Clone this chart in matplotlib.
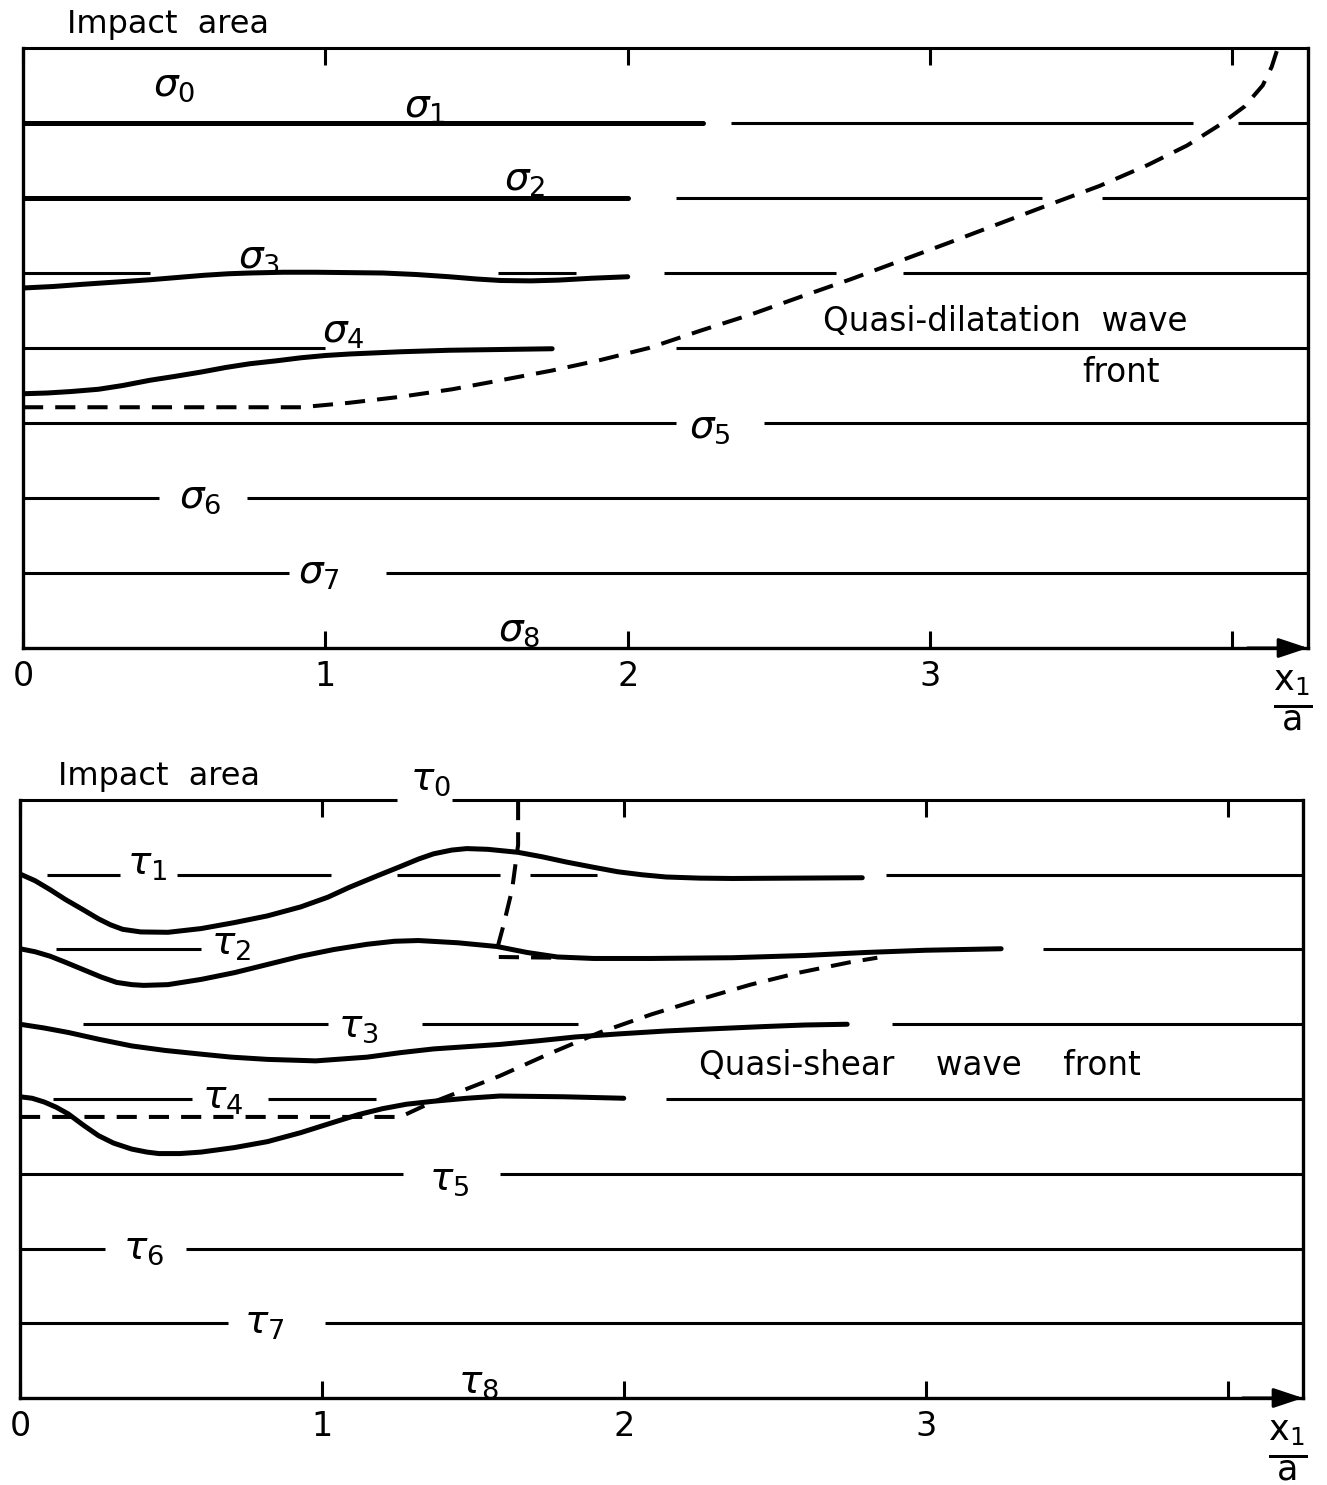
import matplotlib
matplotlib.use("Agg")
import matplotlib.pyplot as plt

plt.rcParams["font.family"] = ["DejaVu Sans"]
plt.rcParams["mathtext.fontset"] = "dejavusans"

# ---- normal stress contours (sigma_0 ... sigma_8) ----
# reference level lines, drawn as (start, end) pieces along x1/a
sigma_ref_segments = {
    0: [(0.0, 4.25)],
    1: [(0.0, 2.25), (2.34, 3.87), (4.02, 4.25)],
    2: [(0.0, 2.0), (2.16, 3.37), (3.57, 4.25)],
    3: [(0.0, 0.42), (1.57, 1.83), (2.12, 2.69), (2.91, 4.25)],
    4: [(0.0, 1.0), (2.16, 4.25)],
    5: [(0.0, 2.16), (2.45, 4.25)],
    6: [(0.0, 0.45), (0.74, 4.25)],
    7: [(0.0, 0.88), (1.20, 4.25)],
}

sigma1_x = [0.0, 2.25]
sigma1_y = [1.0, 1.0]
sigma2_x = [0.0, 2.0]
sigma2_y = [2.0, 2.0]
sigma3_x = [0.0, 0.10, 0.20, 0.31, 0.42, 0.51, 0.60, 0.68, 0.75, 0.86, 0.97,
            1.08, 1.19, 1.30, 1.41, 1.50, 1.58, 1.68, 1.77, 1.88, 2.0]
sigma3_y = [3.20, 3.18, 3.15, 3.12, 3.09, 3.06, 3.03, 3.01, 3.00, 2.99, 2.99,
            2.995, 3.00, 3.02, 3.05, 3.08, 3.10, 3.105, 3.095, 3.07, 3.05]
sigma4_x = [0.0, 0.08, 0.16, 0.25, 0.33, 0.42, 0.50, 0.59, 0.67, 0.75, 0.84,
            0.92, 1.00, 1.08, 1.25, 1.41, 1.58, 1.75]
sigma4_y = [4.61, 4.60, 4.58, 4.55, 4.50, 4.43, 4.38, 4.32, 4.26, 4.21, 4.17,
            4.13, 4.10, 4.08, 4.05, 4.03, 4.02, 4.01]

# quasi-dilatation wave front
dilatation_front_x = [0.0, 0.92, 1.08, 1.25, 1.42, 1.58, 1.75, 1.91, 2.07,
                      2.24, 2.41, 2.57, 2.74, 2.90, 3.06, 3.23, 3.40, 3.56,
                      3.72, 3.85, 3.96, 4.04, 4.10, 4.13, 4.15]
dilatation_front_y = [4.79, 4.79, 4.73, 4.65, 4.55, 4.43, 4.30, 4.16, 4.00,
                      3.77, 3.55, 3.32, 3.08, 2.84, 2.60, 2.34, 2.08, 1.84,
                      1.56, 1.30, 1.02, 0.78, 0.50, 0.25, 0.0]

# ---- shear stress contours (tau_0 ... tau_8) ----
tau_ref_segments = {
    0: [(0.0, 1.25), (1.43, 4.25)],
    1: [(0.09, 0.33), (0.52, 1.03), (1.25, 1.59), (1.69, 1.91), (2.87, 4.25)],
    2: [(0.12, 0.60), (3.39, 4.25)],
    3: [(0.21, 1.02), (1.33, 1.85), (2.89, 4.25)],
    4: [(0.11, 0.57), (0.82, 1.18), (2.14, 4.25)],
    5: [(0.0, 1.27), (1.59, 4.25)],
    6: [(0.0, 0.28), (0.55, 4.25)],
    7: [(0.0, 0.69), (1.01, 4.25)],
}

tau1_x = [0.0, 0.05, 0.10, 0.15, 0.21, 0.26, 0.30, 0.34, 0.40, 0.49, 0.60,
          0.71, 0.82, 0.93, 1.02, 1.09, 1.18, 1.26, 1.32, 1.37, 1.43, 1.48,
          1.55, 1.65, 1.73, 1.81, 1.90, 1.98, 2.06, 2.14, 2.25, 2.36, 2.79]
tau1_y = [0.99, 1.08, 1.20, 1.33, 1.47, 1.59, 1.67, 1.73, 1.765, 1.77, 1.72,
          1.64, 1.55, 1.43, 1.30, 1.17, 1.02, 0.89, 0.79, 0.72, 0.67, 0.65,
          0.66, 0.70, 0.76, 0.83, 0.90, 0.96, 1.00, 1.03, 1.045, 1.05, 1.04]
tau2_x = [0.0, 0.05, 0.10, 0.15, 0.21, 0.27, 0.32, 0.37, 0.41, 0.49, 0.60,
          0.71, 0.82, 0.93, 1.04, 1.15, 1.24, 1.32, 1.45, 1.58, 1.68, 1.78,
          1.90, 2.09, 2.36, 2.60, 2.80, 3.00, 3.25]
tau2_y = [1.99, 2.03, 2.09, 2.17, 2.27, 2.37, 2.44, 2.47, 2.48, 2.47, 2.40,
          2.31, 2.20, 2.09, 2.00, 1.93, 1.89, 1.88, 1.91, 1.96, 2.04, 2.10,
          2.12, 2.12, 2.11, 2.08, 2.04, 2.01, 1.99]
tau3_x = [0.0, 0.08, 0.16, 0.26, 0.37, 0.48, 0.60, 0.70, 0.82, 0.98, 1.15,
          1.26, 1.37, 1.48, 1.59, 1.72, 1.84, 1.98, 2.14, 2.30, 2.47, 2.60,
          2.74]
tau3_y = [3.00, 3.05, 3.11, 3.20, 3.29, 3.35, 3.40, 3.44, 3.47, 3.49, 3.44,
          3.38, 3.33, 3.30, 3.27, 3.22, 3.17, 3.13, 3.09, 3.06, 3.03, 3.01,
          3.00]
tau4_x = [0.0, 0.04, 0.08, 0.12, 0.16, 0.21, 0.26, 0.31, 0.37, 0.42, 0.46,
          0.53, 0.60, 0.71, 0.82, 0.93, 1.04, 1.12, 1.20, 1.28, 1.37, 1.48,
          1.59, 1.80, 2.0]
tau4_y = [3.97, 3.99, 4.04, 4.11, 4.20, 4.35, 4.49, 4.59, 4.67, 4.71, 4.73,
          4.73, 4.71, 4.65, 4.57, 4.45, 4.31, 4.21, 4.13, 4.07, 4.03, 3.99,
          3.96, 3.97, 3.99]

# quasi-shear wave fronts
shear_front_x = [0.0, 1.26, 1.35, 1.42, 1.59, 1.75, 1.92, 2.09, 2.25, 2.42,
                 2.58, 2.75, 2.84]
shear_front_y = [4.24, 4.24, 4.07, 3.96, 3.69, 3.40, 3.11, 2.87, 2.67, 2.47,
                 2.31, 2.17, 2.11]
head_front_x = [1.65, 1.65, 1.63, 1.60, 1.58, 1.58, 1.78]
head_front_y = [0.0, 0.60, 1.20, 1.70, 2.00, 2.10, 2.11]

x_ticks = [0, 1, 2, 3, 4]
x_tick_labels = ["0", "1", "2", "3", ""]

THIN = 2.2
THICK = 3.6
DASH = 2.9
XMAX = 4.25


def setup_axes(ax):
    ax.set_xlim(0, XMAX)
    ax.set_ylim(8, 0)
    ax.set_yticks([])
    ax.set_xticks(x_ticks)
    ax.set_xticklabels(x_tick_labels)
    ax.tick_params(axis="x", direction="in", length=12, width=2.2,
                   top=True, labelsize=24, pad=9)
    ax.spines["top"].set_visible(False)
    for side in ("left", "right", "bottom"):
        ax.spines[side].set_linewidth(2.4)

    # arrow head at the end of the x1/a axis
    ax.annotate("", xy=(XMAX, 8), xytext=(XMAX - 0.2, 8),
                arrowprops=dict(arrowstyle="-|>,head_length=0.9,head_width=0.3",
                                color="black", lw=2.2, mutation_scale=20,
                                shrinkA=0, shrinkB=0),
                annotation_clip=False)

    ax.text(XMAX - 0.05, 8.72, r"$\frac{\mathrm{x}_{\mathrm{1}}}{\mathrm{a}}$",
            fontsize=36, ha="center", va="center", clip_on=False)


def draw_reference_lines(ax, segments):
    for level, pieces in segments.items():
        for start, end in pieces:
            ax.plot([start, end], [level, level], color="black", lw=THIN,
                    solid_capstyle="butt", clip_on=False)


def draw_curve(ax, xs, ys):
    ax.plot(xs, ys, color="black", lw=THICK, solid_capstyle="round",
            solid_joinstyle="round")


def draw_front(ax, xs, ys):
    ax.plot(xs, ys, color="black", lw=DASH, linestyle=(0, (5, 3)),
            dash_capstyle="butt", clip_on=False)


fig = plt.figure(figsize=(13.27, 14.85), dpi=100)

# normal stress panel
ax_top = fig.add_axes([23 / 1327, 1 - 648 / 1485, 1285 / 1327, 600 / 1485])
setup_axes(ax_top)
draw_reference_lines(ax_top, sigma_ref_segments)
draw_curve(ax_top, sigma1_x, sigma1_y)
draw_curve(ax_top, sigma2_x, sigma2_y)
draw_curve(ax_top, sigma3_x, sigma3_y)
draw_curve(ax_top, sigma4_x, sigma4_y)
draw_front(ax_top, dilatation_front_x, dilatation_front_y)

sigma_label_xy = [(0.50, 0.49), (1.33, 0.78), (1.66, 1.76), (0.78, 2.78),
                  (1.06, 3.78), (2.27, 5.05), (0.585, 5.98), (0.98, 7.0),
                  (1.64, 7.76)]
for k, (lx, ly) in enumerate(sigma_label_xy):
    ax_top.text(lx, ly, r"$\sigma_{%d}$" % k, fontsize=28,
                ha="center", va="center")

ax_top.text(0.48, -0.31, "Impact  area", fontsize=23, ha="center",
            va="center", clip_on=False)
ax_top.text(3.25, 3.65, "Quasi-dilatation  wave", fontsize=23.5,
            ha="center", va="center")
ax_top.text(3.63, 4.33, "front", fontsize=23.5, ha="center", va="center")

# shear stress panel
ax_bot = fig.add_axes([20 / 1327, 1 - 1398 / 1485, 1283 / 1327, 598 / 1485])
setup_axes(ax_bot)
draw_reference_lines(ax_bot, tau_ref_segments)
draw_curve(ax_bot, tau1_x, tau1_y)
draw_curve(ax_bot, tau2_x, tau2_y)
draw_curve(ax_bot, tau3_x, tau3_y)
draw_curve(ax_bot, tau4_x, tau4_y)
draw_front(ax_bot, shear_front_x, shear_front_y)
draw_front(ax_bot, head_front_x, head_front_y)

tau_label_xy = [(1.36, -0.28), (0.42, 0.85), (0.70, 1.92), (1.12, 3.02),
                (0.67, 3.98), (1.42, 5.07), (0.41, 6.0), (0.81, 7.0),
                (1.52, 7.78)]
for k, (lx, ly) in enumerate(tau_label_xy):
    ax_bot.text(lx, ly, r"$\tau_{%d}$" % k, fontsize=28,
                ha="center", va="center", clip_on=False)

ax_bot.text(0.46, -0.31, "Impact  area", fontsize=23, ha="center",
            va="center", clip_on=False)
ax_bot.text(2.98, 3.55, "Quasi-shear    wave    front", fontsize=23.5,
            ha="center", va="center")

fig.savefig("out.png", dpi=100, facecolor="white")
